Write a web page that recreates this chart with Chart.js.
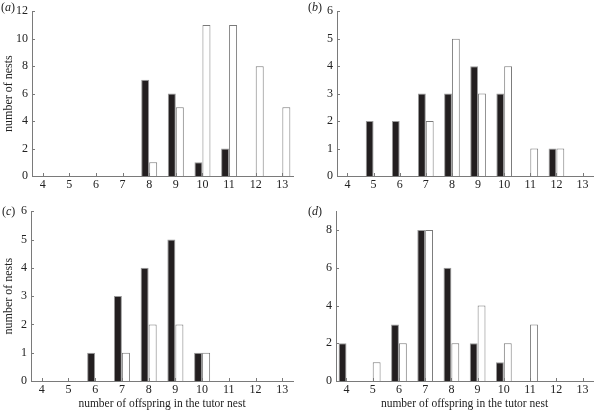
<!DOCTYPE html>
<html>
<head>
<meta charset="utf-8">
<script src="https://cdn.jsdelivr.net/npm/chart.js@4.4.0/dist/chart.umd.min.js"></script>
<style>
  html, body { margin:0; padding:0; background:#fff; }
  #wrap { position:relative; width:600px; height:412px; overflow:hidden; }
  canvas { position:absolute; }
  .tag { position:absolute; font-family:'Liberation Serif', serif; font-size:12px; color:#222; line-height:12px; }
</style>
</head>
<body>
<div id="wrap">
  <canvas id="pa" width="300" height="200" style="left:0;top:0"></canvas>
  <canvas id="pb" width="300" height="200" style="left:300px;top:0"></canvas>
  <canvas id="pc" width="300" height="212" style="left:0;top:200px"></canvas>
  <canvas id="pd" width="300" height="212" style="left:300px;top:200px"></canvas>
  <span class="tag" style="left:1px;top:1px">(<i>a</i>)</span>
  <span class="tag" style="left:308px;top:1px">(<i>b</i>)</span>
  <span class="tag" style="left:2px;top:205px">(<i>c</i>)</span>
  <span class="tag" style="left:308px;top:205px">(<i>d</i>)</span>
</div>
<script>
'use strict';

// ── DATA ─────────────────────────────────────────────
const offspring = [4, 5, 6, 7, 8, 9, 10, 11, 12, 13];

const aBlack = [0, 0, 0, 0, 7, 6, 1, 2, 0, 0];
const aWhite = [0, 0, 0, 0, 1, 5, 11, 11, 8, 5];

const bBlack = [0, 2, 2, 3, 3, 4, 3, 0, 1, 0];
const bWhite = [0, 0, 0, 2, 5, 3, 4, 1, 1, 0];

const cBlack = [0, 0, 1, 3, 4, 5, 1, 0, 0, 0];
const cWhite = [0, 0, 0, 1, 2, 2, 1, 0, 0, 0];

const dBlack = [2, 0, 3, 8, 6, 2, 1, 0, 0, 0];
const dWhite = [0, 1, 2, 8, 2, 4, 2, 3, 0, 0];

const FONT = "'Liberation Serif', 'Times New Roman', serif";
const TXT = '#222';
const AXIS = '#7a7a7a';

// ── INWARD TICK MARKS ────────────────────────────────
const inwardTicks = {
  id:'inwardTicks',
  afterDraw(chart){
    const {ctx, chartArea:{left,bottom}, scales:{x,y}} = chart;
    ctx.save();
    ctx.strokeStyle = AXIS;
    ctx.lineWidth = 1;
    ctx.beginPath();
    x.ticks.forEach((t,i)=>{
      const px = Math.round(x.getPixelForTick(i)) + 0.5;
      ctx.moveTo(px, bottom); ctx.lineTo(px, bottom - 3);
    });
    y.ticks.forEach((t,i)=>{
      const py = Math.round(y.getPixelForTick(i)) + 0.5;
      ctx.moveTo(left, py); ctx.lineTo(left + 3, py);
    });
    ctx.stroke();
    ctx.restore();
  }
};

const toPts = arr => arr.map((v,i)=>({x:offspring[i], y:v===0?null:v}));

function panel(id, black, white, o){
  new Chart(document.getElementById(id).getContext('2d'), {
    type:'bar',
    data:{
      datasets:[
        { data:toPts(black), backgroundColor:'#231f20', borderColor:'#9a9a9a', borderWidth:1, borderSkipped:'bottom' },
        { data:toPts(white), backgroundColor:'#ffffff', borderColor:'#7a7a7a', borderWidth:1, borderSkipped:'bottom' }
      ]
    },
    options:{
      responsive:false,
      animation:false,
      layout:{ padding:{ top:o.top, right:7, left:0, bottom:0 } },
      datasets:{ bar:{ categoryPercentage:0.6, barPercentage:1 } },
      plugins:{ legend:{display:false}, tooltip:{enabled:false} },
      scales:{
        x:{
          type:'linear', min:3.6, max:13.4, offset:false,
          afterFit(s){ s.height = o.xh; },
          ticks:{ stepSize:1, autoSkip:false, includeBounds:false, color:TXT, font:{family:FONT,size:12}, padding:2,
                  callback:v=>Number.isInteger(v)?v:'' },
          grid:{ display:false, drawTicks:false },
          border:{ display:true, color:AXIS, width:1 },
          title:{ display:o.xTitle, text:'number of offspring in the tutor nest', color:TXT, font:{family:FONT,size:11.5}, padding:{top:1,bottom:1} }
        },
        y:{
          min:0, max:o.ymax,
          afterFit(s){ s.width = o.yw; },
          ticks:{ stepSize:o.step, includeBounds:false, color:TXT, font:{family:FONT,size:12}, padding:4 },
          grid:{ display:false, drawTicks:false },
          border:{ display:true, color:AXIS, width:1 },
          title:{ display:o.yTitle, text:'number of nests', color:TXT, font:{family:FONT,size:12}, padding:{top:2,bottom:0} }
        }
      }
    },
    plugins:[inwardTicks]
  });
}

panel('pa', aBlack, aWhite, {top:6,  xh:24, yw:32, ymax:12, step:2, xTitle:false, yTitle:true});
panel('pb', bBlack, bWhite, {top:6,  xh:24, yw:37, ymax:6,  step:1, xTitle:false, yTitle:false});
panel('pc', cBlack, cWhite, {top:11, xh:31, yw:31, ymax:6,  step:1, xTitle:true,  yTitle:true});
panel('pd', dBlack, dWhite, {top:11, xh:31, yw:36, ymax:9,  step:2, xTitle:true,  yTitle:false});
</script>
</body>
</html>
